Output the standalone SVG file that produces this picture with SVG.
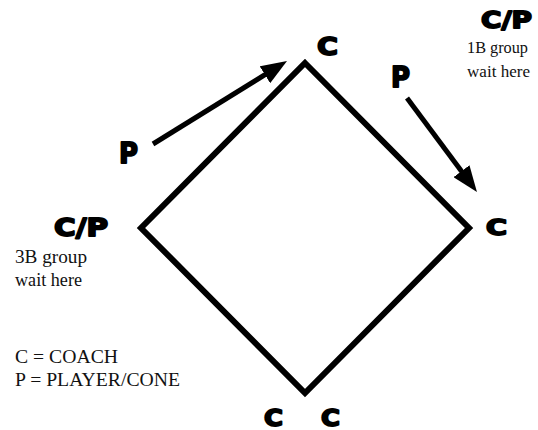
<svg xmlns="http://www.w3.org/2000/svg" width="538" height="430" viewBox="0 0 538 430">
<style>
.h{font-family:"DejaVu Sans","Liberation Sans",sans-serif;font-weight:bold;fill:#000;stroke:#000;stroke-width:1.8;stroke-linejoin:round}
.t{font-family:"Liberation Serif","Times New Roman",serif;fill:#111}
.arrow{stroke:#000;stroke-width:5;fill:none;marker-end:url(#ah)}
</style>
<defs>
<marker id="ah" markerUnits="userSpaceOnUse" markerWidth="26" markerHeight="20" viewBox="0 0 26 20" refX="12" refY="10" orient="auto">
<path d="M0,0 L26,10 L0,20 z" fill="#000"/>
</marker>
</defs>
<rect width="538" height="430" fill="#fff"/>
<g id="diamond">
<polygon points="305,63 469,228 305,393 141,228" fill="none" stroke="#000" stroke-width="6" stroke-linejoin="miter"/>
</g>
<g id="connectors">
<line class="arrow" x1="153" y1="144" x2="275.1" y2="68.4"/>
<line class="arrow" x1="407" y1="98" x2="468.6" y2="180.8"/>
</g>
<g id="node-top-c"><text class="h" x="317" y="55" font-size="25" textLength="21" lengthAdjust="spacingAndGlyphs">C</text></g>
<g id="node-1b">
<text class="h" x="481" y="28" font-size="23" textLength="51" lengthAdjust="spacingAndGlyphs">C/P</text>
<text class="t" x="467" y="53" font-size="17.5" textLength="61" lengthAdjust="spacingAndGlyphs">1B group</text>
<text class="t" x="467" y="77" font-size="17.5" textLength="63" lengthAdjust="spacingAndGlyphs">wait here</text>
</g>
<g id="node-p-right"><text class="h" x="391" y="87" font-size="28" textLength="19" lengthAdjust="spacingAndGlyphs">P</text></g>
<g id="node-p-left"><text class="h" x="119" y="163" font-size="29" textLength="19" lengthAdjust="spacingAndGlyphs">P</text></g>
<g id="node-right-c"><text class="h" x="486" y="235" font-size="21" textLength="21" lengthAdjust="spacingAndGlyphs">C</text></g>
<g id="node-3b">
<text class="h" x="54" y="236" font-size="25" textLength="54" lengthAdjust="spacingAndGlyphs">C/P</text>
<text class="t" x="15" y="263" font-size="19" textLength="72" lengthAdjust="spacingAndGlyphs">3B group</text>
<text class="t" x="15" y="286" font-size="19" textLength="67" lengthAdjust="spacingAndGlyphs">wait here</text>
</g>
<g id="legend">
<text class="t" x="15" y="363" font-size="18" textLength="103" lengthAdjust="spacingAndGlyphs">C = COACH</text>
<text class="t" x="15" y="386" font-size="18" textLength="165" lengthAdjust="spacingAndGlyphs">P = PLAYER/CONE</text>
</g>
<g id="node-bottom-c1"><text class="h" x="264" y="426" font-size="23" textLength="19" lengthAdjust="spacingAndGlyphs">C</text></g>
<g id="node-bottom-c2"><text class="h" x="321" y="426" font-size="23" textLength="19" lengthAdjust="spacingAndGlyphs">C</text></g>
</svg>
